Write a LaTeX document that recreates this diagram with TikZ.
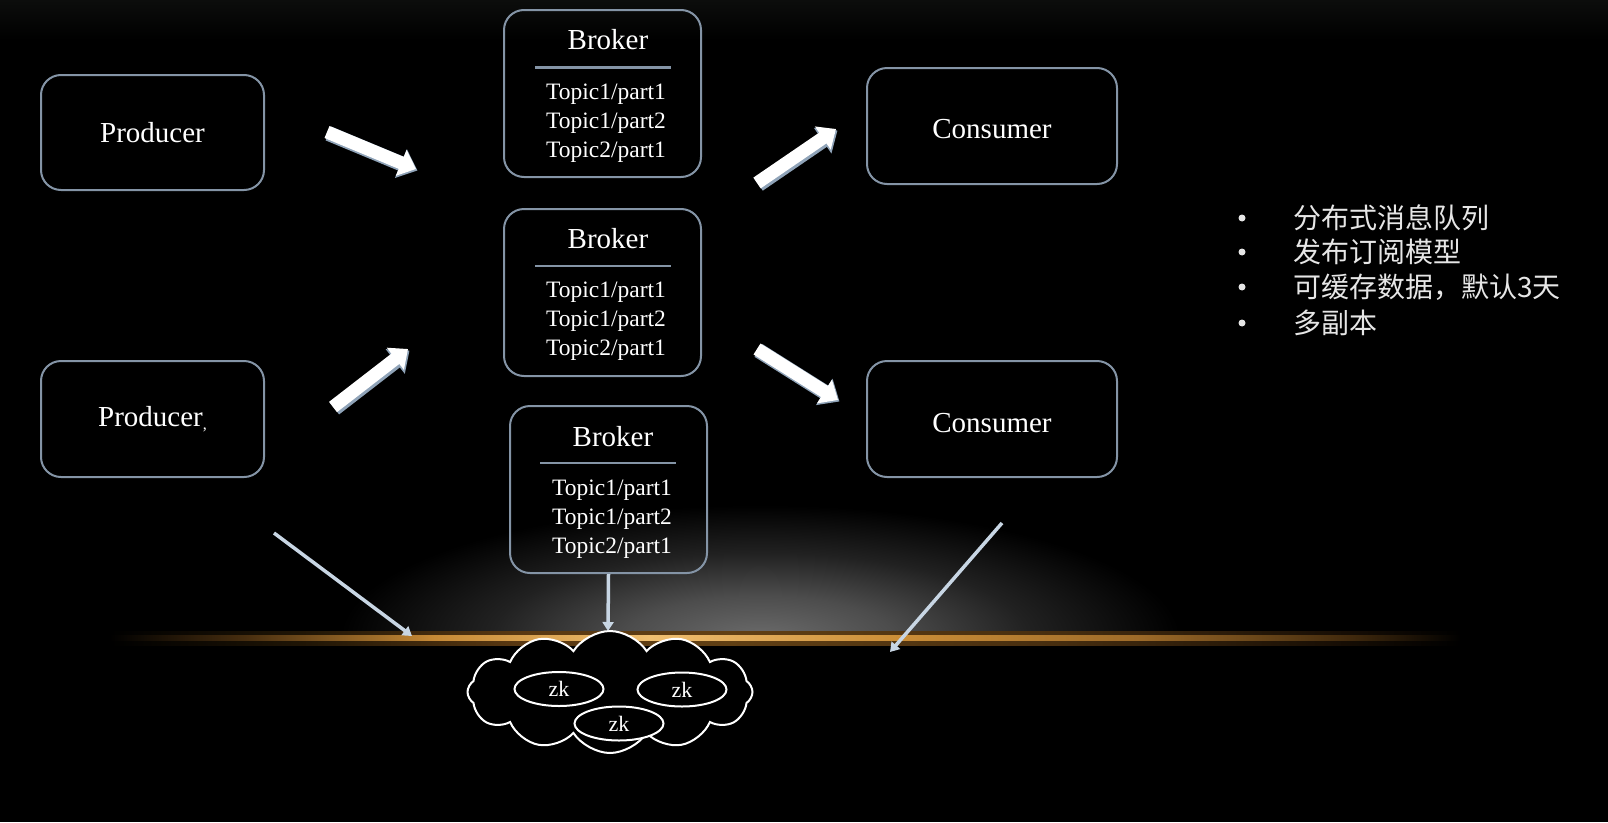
\documentclass[tikz,border=0pt]{standalone}
\usepackage{fontspec}
\setmainfont{Liberation Serif}
\newfontfamily\cjk{Noto Sans CJK SC}
\usetikzlibrary{arrows.meta,shapes.geometric,shapes.symbols}
\definecolor{boxc}{HTML}{8494A6}
\definecolor{arrc}{HTML}{8FA3B8}
\definecolor{thinc}{HTML}{C8D6E4}
\definecolor{topc}{HTML}{0C0D0C}
\definecolor{cjkc}{HTML}{E6E6E6}
\pgfdeclareradialshading{hglow}{\pgfpoint{0bp}{0bp}}{rgb(0bp)=(0.42,0.42,0.42); rgb(8bp)=(0.30,0.30,0.30); rgb(16bp)=(0.13,0.13,0.13); rgb(25bp)=(0,0,0); rgb(50bp)=(0,0,0)}
\pgfdeclarehorizontalshading{ocore}{100bp}{rgb(0bp)=(0,0,0); rgb(25bp)=(0,0,0); rgb(30bp)=(0.28,0.18,0.06); rgb(37bp)=(0.78,0.54,0.21); rgb(45bp)=(0.94,0.75,0.44); rgb(54bp)=(0.80,0.56,0.22); rgb(63bp)=(0.62,0.42,0.16); rgb(71bp)=(0.25,0.16,0.05); rgb(75bp)=(0,0,0); rgb(100bp)=(0,0,0)}
\pgfdeclarehorizontalshading{oglow}{100bp}{rgb(0bp)=(0,0,0); rgb(25bp)=(0,0,0); rgb(32bp)=(0.12,0.08,0.02); rgb(40bp)=(0.35,0.22,0.07); rgb(48bp)=(0.38,0.25,0.08); rgb(60bp)=(0.28,0.18,0.06); rgb(70bp)=(0.10,0.06,0.02); rgb(75bp)=(0,0,0); rgb(100bp)=(0,0,0)}
\begin{document}
\begin{tikzpicture}[x=1pt,y=-1pt,
  box/.style={draw=boxc, line width=2pt, rounded corners=20pt, inner sep=0pt},
  lbl/.style={text=white, inner sep=0pt, font=\fontsize{29}{34}\selectfont},
  topics/.style={text=white, align=center, inner sep=0pt, font=\fontsize{23.5}{29}\selectfont},
  sepline/.style={draw=boxc, line width=2.5pt},
  fat/.style={line width=13pt, white, -{Triangle[width=27pt,length=16pt]}},
  fatsh/.style={line width=15pt, arrc, -{Triangle[width=30pt,length=18pt]}},
  thin/.style={line width=3.5pt, thinc, -{Triangle[width=11pt,length=9pt]}},
  zk/.style={ellipse, draw=white, line width=2pt, minimum width=89pt, minimum height=34pt, inner sep=0pt, text=white, font=\fontsize{22}{24}\selectfont},
  bul/.style={circle, fill=cjkc, inner sep=0pt, minimum size=7pt},
  cjktxt/.style={anchor=west, text=cjkc, inner sep=0pt, font=\cjk\fontsize{28}{30}\selectfont},
]
% background
\fill[black] (0,0) rectangle (1608,822);
\useasboundingbox (0,0) rectangle (1608,822);
\shade[top color=topc, bottom color=black] (0,0) rectangle (1608,40);
% horizon glow
\begin{scope}
\clip (0,0) rectangle (1608,638);
\shade[shading=hglow] (340,505) rectangle (1180,771);
\end{scope}
% orange line
\shade[shading=oglow] (110,631) rectangle (1460,645);
\shade[shading=ocore] (110,635.5) rectangle (1460,640.5);

% producers
\node[box, minimum width=223pt, minimum height=115pt] (p1) at (152.5,132.5) {};
\node[lbl] (p1t) at (p1) {Producer};
\node[box, minimum width=223pt, minimum height=116pt] (p2) at (152.5,419) {};
\node[lbl] (p2t) at (p2) {Producer\raisebox{-3pt}{\fontsize{16}{16}\selectfont,}};

% brokers
\node[box, minimum width=197pt, minimum height=167pt] (b1) at (602.5,93.5) {};
\node[lbl] (b1t) at (608,40) {Broker};
\draw[sepline] (535,67.5) coordinate (b1l) -- (671,67.5) coordinate (b1r);
\node[topics] (b1p) at (606,123) {Topic1/part1\\Topic1/part2\\Topic2/part1};

\node[box, minimum width=197pt, minimum height=167pt] (b2) at (602.5,292.5) {};
\node[lbl] (b2t) at (608,239) {Broker};
\draw[sepline] (535,266) coordinate (b2l) -- (671,266) coordinate (b2r);
\node[topics] (b2p) at (606,321) {Topic1/part1\\Topic1/part2\\Topic2/part1};

\node[box, minimum width=197pt, minimum height=167pt] (b3) at (608.5,489.5) {};
\node[lbl] (b3t) at (613,437) {Broker};
\draw[sepline] (540,463) coordinate (b3l) -- (676,463) coordinate (b3r);
\node[topics] (b3p) at (612,519) {Topic1/part1\\Topic1/part2\\Topic2/part1};

% consumers
\node[box, minimum width=250pt, minimum height=116pt] (c1) at (992,126) {};
\node[lbl] (c1t) at (992,129) {Consumer};
\node[box, minimum width=250pt, minimum height=116pt] (c2) at (992,419) {};
\node[lbl] (c2t) at (992,423) {Consumer};

% fat arrows
\coordinate (a1s) at (327,132); \coordinate (a1e) at (416,169);
\coordinate (a2s) at (333,407); \coordinate (a2e) at (408,349);
\coordinate (a3s) at (757,183); \coordinate (a3e) at (836,129);
\coordinate (a4s) at (757,349); \coordinate (a4e) at (838,400);
\foreach \s/\e in {a1s/a1e,a2s/a2e,a3s/a3e,a4s/a4e}{
  \draw[fatsh] ([shift={(1.5,1.5)}]\s) -- ([shift={(1.5,1.5)}]\e);
  \draw[fat] (\s) -- (\e);
}

% zookeeper cloud
\node[cloud, cloud puffs=12, cloud puff arc=115, aspect=2.4, draw=white, fill=black, line width=2pt, minimum width=285pt, minimum height=122pt, inner sep=0pt] (cl) at (610,692) {};
\node[zk] (zk1) at (559,689) {zk};
\node[zk] (zk2) at (682,689.5) {zk};
\node[zk, fill=black] (zk3) at (619,723.5) {zk};

% thin arrows
\coordinate (t1s) at (274,533); \coordinate (t1e) at (412,636);
\coordinate (t2e) at (608,631);
\coordinate (t3s) at (1002,523); \coordinate (t3e) at (890,652);
\draw[thin] (t1s) -- (t1e);
\draw[thin] (b3.south) -- (t2e);
\draw[thin] (t3s) -- (t3e);

% bullet list
\node[bul] (d1) at (1242,218) {};
\node[cjktxt] (l1) at (1293,218) {分布式消息队列};
\node[bul] (d2) at (1242,252) {};
\node[cjktxt] (l2) at (1293,252) {发布订阅模型};
\node[bul] (d3) at (1242,287) {};
\node[cjktxt] (l3) at (1293,287) {可缓存数据，默认3天};
\node[bul] (d4) at (1242,323) {};
\node[cjktxt] (l4) at (1293,323) {多副本};
\end{tikzpicture}
\end{document}
